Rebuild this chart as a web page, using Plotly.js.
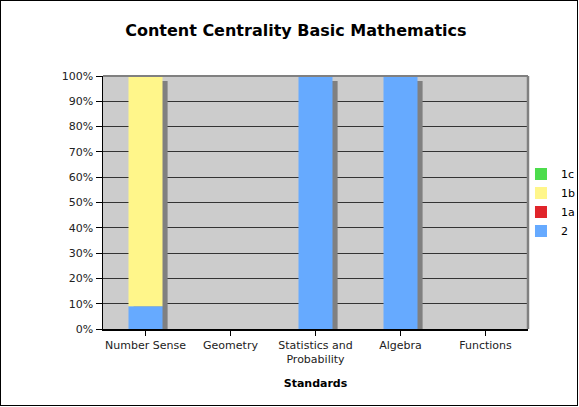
<!DOCTYPE html>
<html>
<head>
<meta charset="utf-8">
<script src="https://cdn.plot.ly/plotly-3.0.1.min.js"></script>
<style>
html,body{margin:0;padding:0;background:#fff;}
#wrap{position:relative;width:579px;height:407px;}
#chart{width:579px;height:407px;}
#frame{position:absolute;left:0;top:0;width:576px;height:404px;border:1.5px solid #000;pointer-events:none;}
</style>
</head>
<body>
<div id="wrap"><div id="chart"></div><div id="frame"></div></div>
<script>
var categories = ["Number Sense", "Geometry", "Statistics and<br>Probability", "Algebra", "Functions"];
var s2  = [0.09, 0, 1.00, 1.00, 0];
var s1a = [0, 0, 0, 0, 0];
var s1b = [0.91, 0, 0, 0, 0];
var s1c = [0, 0, 0, 0, 0];
var yTickVals = [0,0.1,0.2,0.3,0.4,0.5,0.6,0.7,0.8,0.9,1.0];
var yTickText = ["0%","10%","20%","30%","40%","50%","60%","70%","80%","90%","100%"];

var idx = categories.map(function(_, i){ return i; });
var base1a = idx.map(function(i){ return s2[i]; });
var base1b = idx.map(function(i){ return s2[i] + s1a[i]; });
var base1c = idx.map(function(i){ return s2[i] + s1a[i] + s1b[i]; });
var totals = idx.map(function(i){ return s2[i] + s1a[i] + s1b[i] + s1c[i]; });

var W = 0.4;
function barTrace(name, vals, base, color){
  return {type:'bar', name:name, x:idx, y:vals, base:base, width:W, offset:-W/2,
    marker:{color:color, line:{width:0}}, hoverinfo:'skip'};
}
var shadow = {type:'bar', x:idx, y:totals, base:-0.02, width:W, offset:-W/2+0.06,
  marker:{color:'#808080', line:{width:0}}, showlegend:false, hoverinfo:'skip'};

var data = [
  shadow,
  barTrace('2', s2, 0, '#66AAFF'),
  barTrace('1a', s1a, base1a, '#E0242A'),
  barTrace('1b', s1b, base1b, '#FFF68A'),
  barTrace('1c', s1c, base1c, '#4CDC4C')
];

var layout = {
  width:579, height:407,
  margin:{l:103, r:51, t:76, b:78, pad:0, autoexpand:false},
  paper_bgcolor:'#ffffff', plot_bgcolor:'#cccccc',
  barmode:'overlay',
  font:{family:'DejaVu Sans, Verdana, sans-serif', size:11, color:'#000'},
  title:{text:'<b>Content Centrality Basic Mathematics</b>',
    font:{family:'DejaVu Sans, Verdana, sans-serif', size:16, color:'#000'},
    x:0.511, xref:'container', xanchor:'center', y:0.925, yref:'container', yanchor:'middle'},
  xaxis:{range:[-0.5,4.5], tickvals:idx, ticktext:categories, tickson:'boundaries',
    ticks:'outside', ticklen:5, tickcolor:'#000', tickwidth:1,
    showline:true, linecolor:'#000', linewidth:1.5, showgrid:false, zeroline:false,
    tickfont:{size:11, color:'#222'}, fixedrange:true,
    title:{text:'<b>Standards</b>', font:{size:11, color:'#000'}, standoff:14}},
  yaxis:{range:[0,1], tickvals:yTickVals, ticktext:yTickText,
    ticks:'outside', ticklen:6, tickcolor:'#000', tickwidth:1,
    showline:true, linecolor:'#000', linewidth:1.5,
    showgrid:true, gridcolor:'#333333', gridwidth:1, zeroline:false,
    tickfont:{size:11, color:'#222'}, fixedrange:true},
  legend:{x:0.9835, xanchor:'left', y:0.67, yanchor:'top', traceorder:'reversed',
    font:{size:11, color:'#000'}, bgcolor:'rgba(0,0,0,0)', itemwidth:30, tracegroupgap:0},
  shapes:[
    {type:'line', xref:'paper', yref:'paper', x0:1, x1:1, y0:0, y1:1, line:{color:'#808080', width:2.5}},
    {type:'line', xref:'paper', yref:'paper', x0:0, x1:1, y0:1, y1:1, line:{color:'#808080', width:2}}
  ],
  showlegend:true
};

Plotly.newPlot('chart', data, layout, {displayModeBar:false, staticPlot:true});
</script>
</body>
</html>
